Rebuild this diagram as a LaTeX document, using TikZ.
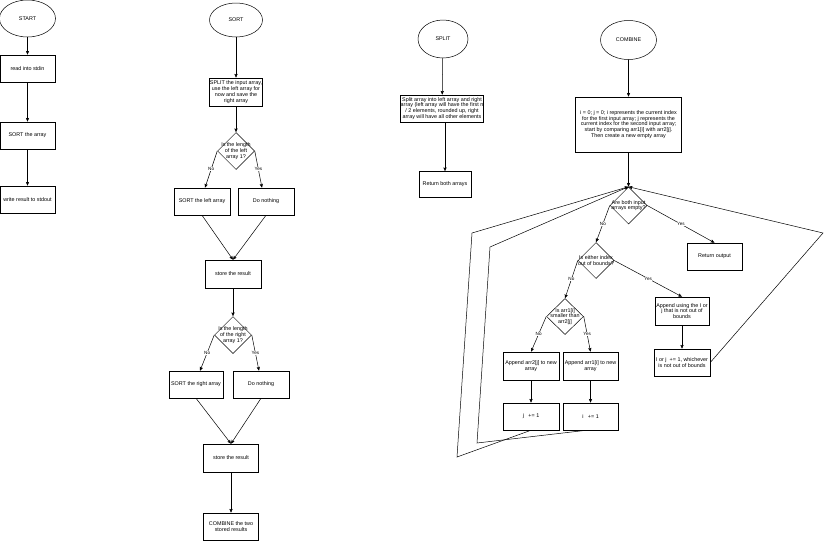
\documentclass[tikz,border=0pt]{standalone}
\usepackage{fontspec}
\setmainfont{Liberation Sans}
\usetikzlibrary{shapes.geometric,arrows.meta}
\begin{document}
\begin{tikzpicture}[x=1pt,y=-1pt,
  every node/.style={font=\fontsize{5.4}{5.8}\selectfont, text=black},
  proc/.style={draw, line width=0.5pt, rectangle, inner sep=0pt, align=center,
               minimum width=#1, minimum height=27pt},
  proc/.default=56pt,
  term/.style={draw, line width=0.5pt, ellipse, inner sep=0pt,
               minimum width=#1, minimum height=37pt},
  term/.default=54pt,
  dia/.style={draw, line width=0.5pt, diamond, inner sep=0pt,
              minimum width=37pt, minimum height=37pt},
  dtext/.style={align=center, inner sep=0pt},
  yn/.style={fill=white, inner sep=0.5pt, font=\fontsize{4.6}{5}\selectfont},
  flow/.style={draw, line width=0.5pt, -{Stealth[length=3.8pt,width=3.2pt,inset=0.6pt]}},
]
\useasboundingbox (0,0) rectangle (829,541);

% ---------------- main program ----------------
\node[term=56pt] (start) at (27.5,18.5) {START};
\node[proc=55pt] (read) at (27.5,68.5) {read into stdin};
\node[proc=55pt] (sortall) at (27.5,135.5) {SORT the array};
\node[proc=55pt] (write) at (27.5,199.5) {write result to stdout};
\draw[flow] (start) -- (read);
\draw[flow] (read) -- (sortall);
\draw[flow] (sortall) -- (write);

% ---------------- SORT ----------------
\node[term=53pt, minimum height=34pt] (sort) at (236,20) {SORT};
\node[proc=53pt, minimum height=28pt] (splitin) at (236,92)
  {SPLIT the input array,\\use the left array for\\now and save the\\right array};
\node[dia] (d1) at (236,151) {};
\node[dtext] at (d1) {Is the length\\of the left\\array 1?};
\node[proc] (sortleft) at (202,201.5) {SORT the left array};
\node[proc] (nothing1) at (266,201.5) {Do nothing};
\node[proc, minimum height=28pt] (store1) at (233,274) {store the result};
\node[dia] (d2) at (233,335) {};
\node[dtext] at (d2) {Is the length\\of the right\\array 1?};
\node[proc=54pt] (sortright) at (196,384.5) {SORT the right array};
\node[proc] (nothing2) at (261,384.5) {Do nothing};
\node[proc=55pt, minimum height=28pt] (store2) at (231,458) {store the result};
\node[proc=55pt] (combine2) at (231,526.5) {COMBINE the two\\stored results};

\draw[flow] (sort) -- (splitin);
\draw[flow] (splitin) -- (d1);
\draw[flow] (d1.west) -- node[yn] {No} ([xshift=3pt]sortleft.north);
\draw[flow] (d1.east) -- node[yn] {Yes} ([xshift=-4pt]nothing1.north);
\draw[flow] (sortleft.south) -- (store1.north);
\draw[flow] (nothing1.south) -- (store1.north);
\draw[flow] (store1) -- (d2);
\draw[flow] (d2.west) -- node[yn] {No} ([xshift=4pt]sortright.north);
\draw[flow] (d2.east) -- node[yn] {Yes} ([xshift=-2pt]nothing2.north);
\draw[flow] (sortright.south) -- (store2.north);
\draw[flow] (nothing2.south) -- (store2.north);
\draw[flow] (store2) -- (combine2);

% ---------------- SPLIT ----------------
\node[term=50pt, minimum height=38pt] (split) at (443,39) {SPLIT};
\node[proc=83pt] (halves) at (442,108.5)
  {Split array into left array and right\\array (left array will have the first n\\/ 2 elements, rounded up, right\\array will have all other elements};
\node[proc=52pt, minimum height=26pt] (retboth) at (445,184.5) {Return both arrays};
\draw[flow] (split) -- (halves);
\draw[flow] (halves.south -| retboth) -- (retboth);

% ---------------- COMBINE ----------------
\node[term=56pt, minimum height=39pt] (comb) at (628.5,40) {COMBINE};
\node[proc=106pt, minimum height=55pt] (init) at (628.5,124.5)
  {i = 0; j = 0; i represents the current index\\for the first input array; j represents the\\current index for the second input array;\\start by comparing arr1[i] with arr2[j].\\Then create a new empty array};
\node[dia] (cd1) at (628.5,205.5) {};
\node[dtext] at (cd1) {Are both input\\arrays empty?};
\node[proc=55pt] (retout) at (714.5,256.5) {Return output};
\node[dia, minimum width=36pt, minimum height=36pt] (cd2) at (596,260.5) {};
\node[dtext] at (cd2) {Is either index\\out of bounds?};
\node[dia, minimum height=36pt] (cd3) at (565,316.5) {};
\node[dtext] at (cd3) {Is arr1[i]\\smaller than\\arr2[j]};
\node[proc, minimum height=28pt] (appj) at (531,366) {Append arr2[j] to new\\array};
\node[proc=55pt, minimum height=28pt] (appi) at (590.5,366) {Append arr1[i] to new\\array};
\node[proc] (jinc) at (531,416.5) {j \ \ += 1};
\node[proc=55pt] (iinc) at (590.5,416.5) {i \ \ += 1};
\node[proc=54pt, minimum height=28pt] (appuse) at (682,311) {Append using the I or\\j that is not out of\\bounds};
\node[proc] (ijinc) at (682,362.5) {I or j \ += 1, whichever\\is not out of bounds};

\coordinate (jo1) at (457,457);
\coordinate (jo2) at (472,233);
\coordinate (io1) at (477,443);
\coordinate (io2) at (490,247);
\coordinate (ro) at (823,233);

\draw[flow] (comb) -- (init);
\draw[flow] (init) -- (cd1);
\draw[flow] (cd1.west) -- node[yn] {No} (cd2.north);
\draw[flow] (cd1.east) -- node[yn] {Yes} (retout.north);
\draw[flow] (cd2.west) -- node[yn] {No} (cd3.north);
\draw[flow] (cd2.east) -- node[yn] {Yes} (appuse.north);
\draw[flow] (cd3.west) -- node[yn] {No} (appj.north);
\draw[flow] (cd3.east) -- node[yn] {Yes} (appi.north);
\draw[flow] (appj) -- (jinc);
\draw[flow] (appi) -- (iinc);
\draw[flow] (appuse) -- (ijinc);

% loops back to the emptiness test
\draw[flow] (jinc.south) -- (jo1) -- (jo2) -- (cd1.north);
\draw[flow] ([xshift=-4pt]iinc.south) -- (io1) -- (io2) -- (cd1.north);
\draw[flow] (ijinc.east) -- (ro) -- (cd1.north);
\end{tikzpicture}
\end{document}
